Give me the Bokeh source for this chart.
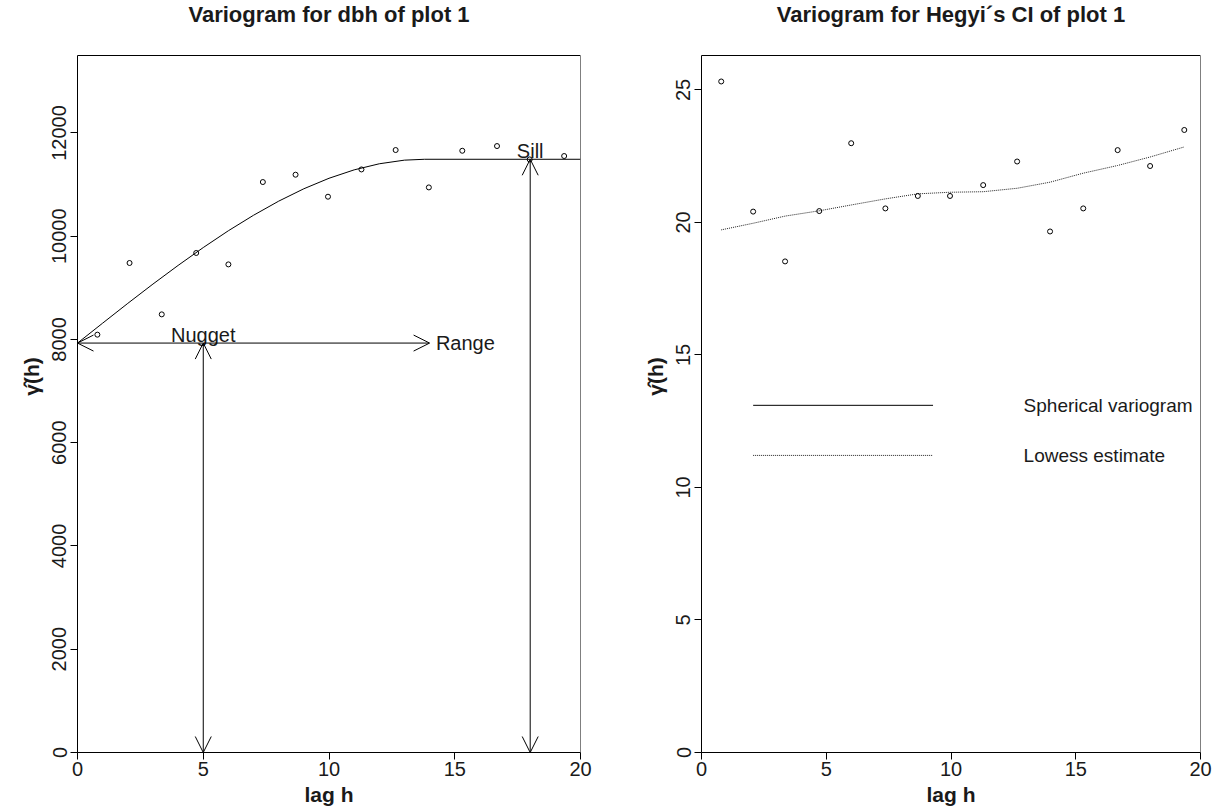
from bokeh.plotting import figure
from bokeh.layouts import row
from bokeh.models import Arrow, OpenHead, FixedTicker, Range1d, ColumnDataSource
from bokeh.core.properties import value
from bokeh.embed import file_html
from bokeh.resources import INLINE

# ---------------- data ----------------
lags = [0.79, 2.07, 3.35, 4.72, 6.0, 7.37, 8.67, 9.96, 11.29, 12.65, 13.97, 15.3, 16.68, 17.98, 19.35]
dbh_gamma = [8093, 9481, 8486, 9675, 9454, 11049, 11191, 10765, 11293, 11669, 10945, 11655, 11746, 11487, 11553]

# spherical model curve
sph_lag = [0, 1, 2, 3, 4, 5, 6, 7, 8, 9, 10, 11, 12, 13, 13.8, 20]
sph_gamma = [7930, 8316, 8699, 9073, 9434, 9780, 10106, 10406, 10679, 10919, 11122, 11285, 11403, 11473, 11490, 11490]

nugget = 7930
sill = 11490
range_lag = 14.0
nugget_lag = 5
sill_lag = 18

hegyi_gamma = [25.32, 20.41, 18.53, 20.43, 22.99, 20.53, 21.00, 21.00, 21.41, 22.30, 19.66, 20.53, 22.73, 22.13, 23.49]
lowess_gamma = [19.72, 19.97, 20.24, 20.44, 20.66, 20.89, 21.08, 21.14, 21.16, 21.29, 21.52, 21.86, 22.15, 22.47, 22.85]

x_lim = (0, 20)
y_lim_dbh = (0, 13500)
y_lim_hegyi = (0, 26.3)
x_ticks = [0, 5, 10, 15, 20]
y_ticks_dbh = [0, 2000, 4000, 6000, 8000, 10000, 12000]
y_ticks_hegyi = [0, 5, 10, 15, 20, 25]

legend_labels = ["Spherical variogram", "Lowess estimate"]
titles = ["Variogram for dbh of plot 1", "Variogram for Hegyi´s CI of plot 1"]

FONT = "Liberation Sans"
TXT = "#1a1a1a"
BOX_TOP_PX = 55      # pixel row of the top of the plotting box
BOX_BOTTOM_PX = 752  # pixel row of the bottom of the plotting box
TITLE_PX = 14        # pixel row of the title centre


def make_panel(width, left, right, ylim, yticks, title):
    # the canvas area above the box is part of the frame so the title can sit high
    lo, hi = ylim
    per_px = (hi - lo) / (BOX_BOTTOM_PX - BOX_TOP_PX)
    y_end = lo + BOX_BOTTOM_PX * per_px
    p = figure(width=width, height=809, output_backend="svg", toolbar_location=None,
               x_range=Range1d(*x_lim), y_range=Range1d(lo, y_end),
               min_border_left=left, min_border_right=right, min_border_top=0,
               min_border_bottom=57, x_axis_label="lag h", y_axis_label="γ̂(h)")
    p.grid.visible = False
    p.outline_line_color = None
    p.xaxis.ticker = FixedTicker(ticks=x_ticks)
    p.yaxis.ticker = FixedTicker(ticks=yticks)
    p.yaxis.bounds = ylim
    for ax in (p.xaxis[0], p.yaxis[0]):
        ax.axis_line_color = "black"
        ax.major_tick_line_color = "black"
        ax.major_tick_out = 7
        ax.major_tick_in = 0
        ax.minor_tick_line_color = None
        ax.major_label_text_font = FONT
        ax.major_label_text_font_size = "20px"
        ax.major_label_text_color = TXT
        ax.axis_label_text_font = FONT
        ax.axis_label_text_font_size = "21px"
        ax.axis_label_text_font_style = "bold"
        ax.axis_label_text_color = TXT
    p.yaxis.major_label_orientation = "vertical"
    p.yaxis.major_label_standoff = 4
    p.yaxis.axis_label_standoff = 7
    p.xaxis.major_label_standoff = 2
    p.xaxis.axis_label_standoff = 4
    # plotting box
    p.quad(left=[x_lim[0]], right=[x_lim[1]], bottom=[lo], top=[hi],
           fill_color=None, line_color="black", line_width=1)
    # title
    ty = lo + (BOX_BOTTOM_PX - TITLE_PX) * per_px
    p.text(x=[(x_lim[0] + x_lim[1]) / 2], y=[ty], text=[title], text_align="center",
           text_baseline="middle", text_font=value(FONT), text_font_size="22px",
           text_font_style="bold", text_color=TXT)
    return p


# ---------------- left panel ----------------
p1 = make_panel(620, 77, 40, y_lim_dbh, y_ticks_dbh, titles[0])

p1.line(sph_lag, sph_gamma, line_color="black", line_width=1)
p1.scatter(lags, dbh_gamma, marker="circle", size=5, fill_color=None, line_color="black", line_width=1)

arr_src = ColumnDataSource(dict(
    x0=[0, nugget_lag, sill_lag],
    y0=[nugget, 0, 0],
    x1=[range_lag, nugget_lag, sill_lag],
    y1=[nugget, nugget, sill],
))
p1.add_layout(Arrow(start=OpenHead(size=16, line_width=1, line_color="black"),
                    end=OpenHead(size=16, line_width=1, line_color="black"),
                    x_start="x0", y_start="y0", x_end="x1", y_end="y1",
                    line_color="black", line_width=1, source=arr_src))

p1.text(x=[nugget_lag], y=[nugget + 150], text=["Nugget"], text_align="center",
        text_baseline="alphabetic", text_font=value(FONT), text_font_size="20px", text_color=TXT)
p1.text(x=[sill_lag], y=[sill + 160], text=["Sill"], text_align="center",
        text_baseline="alphabetic", text_font=value(FONT), text_font_size="20px", text_color=TXT)
p1.text(x=[range_lag + 0.25], y=[nugget], text=["Range"], text_align="left",
        text_baseline="middle", text_font=value(FONT), text_font_size="20px", text_color=TXT)

# ---------------- right panel ----------------
p2 = make_panel(606, 81, 26, y_lim_hegyi, y_ticks_hegyi, titles[1])

p2.line(lags, lowess_gamma, line_color="#222222", line_width=1, line_dash="1 1")
p2.scatter(lags, hegyi_gamma, marker="circle", size=5, fill_color=None, line_color="black", line_width=1)

# legend drawn by hand
p2.segment(x0=[2.07, 2.07], y0=[13.10, 11.21], x1=[9.28, 9.28], y1=[13.10, 11.21],
           line_color=["black", "#222222"], line_width=1, line_dash=["solid", "1 1"])
p2.text(x=[12.91, 12.91], y=[13.10, 11.21], text=legend_labels, text_align="left",
        text_baseline="middle", text_font=value(FONT), text_font_size="19px", text_color=TXT)

layout = row(p1, p2)
open("out.html", "w").write(file_html(layout, INLINE))
